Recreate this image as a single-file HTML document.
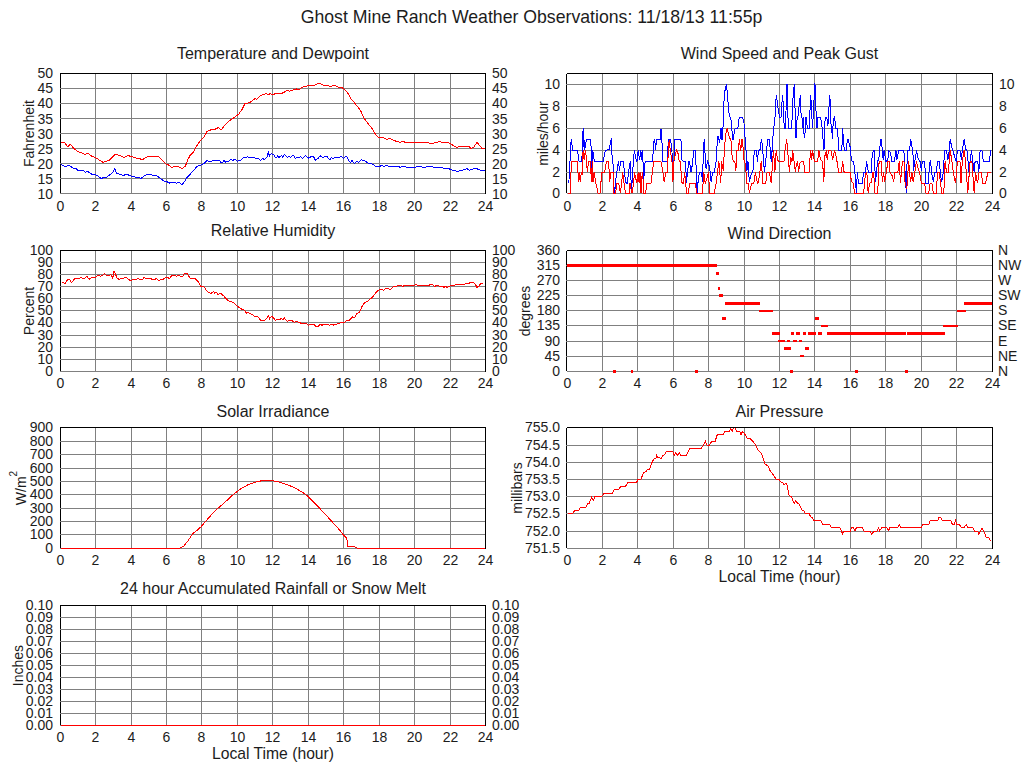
<!DOCTYPE html><html><head><meta charset="utf-8"><style>html,body{margin:0;padding:0;background:#fff;width:1024px;height:768px;overflow:hidden}svg{display:block}text{font-family:"Liberation Sans",sans-serif;fill:#1c1c1c}</style></head><body>
<svg width="1024" height="768" viewBox="0 0 1024 768">
<rect x="0" y="0" width="1024" height="768" fill="#fff"/>
<defs><clipPath id="clipc1"><rect x="61" y="74" width="424" height="121"/></clipPath><clipPath id="clipc2"><rect x="567" y="74" width="425" height="121"/></clipPath><clipPath id="clipc3"><rect x="61" y="251" width="424" height="122"/></clipPath><clipPath id="clipc4"><rect x="567" y="251" width="425" height="122"/></clipPath><clipPath id="clipc5"><rect x="61" y="428" width="424" height="122"/></clipPath><clipPath id="clipc6"><rect x="567" y="428" width="425" height="122"/></clipPath><clipPath id="clipc7"><rect x="61" y="606" width="424" height="121"/></clipPath></defs>
<text x="531.5" y="23" font-size="17.68" text-anchor="middle" transform="translate(531.5 23) scale(1 1.07) translate(-531.5 -23)">Ghost Mine Ranch Weather Observations: 11/18/13 11:55p</text>
<g shape-rendering="crispEdges">
<rect x="60" y="73" width="426" height="1" fill="#000"/>
<rect x="60" y="73" width="1" height="121" fill="#000"/>
<rect x="485" y="73" width="1" height="121" fill="#000"/>
<rect x="61" y="193" width="425" height="1" fill="#000"/>
<rect x="95" y="74" width="1" height="120" fill="#808080"/>
<rect x="131" y="74" width="1" height="120" fill="#808080"/>
<rect x="166" y="74" width="1" height="120" fill="#808080"/>
<rect x="201" y="74" width="1" height="120" fill="#808080"/>
<rect x="237" y="74" width="1" height="120" fill="#808080"/>
<rect x="272" y="74" width="1" height="120" fill="#808080"/>
<rect x="308" y="74" width="1" height="120" fill="#808080"/>
<rect x="343" y="74" width="1" height="120" fill="#808080"/>
<rect x="379" y="74" width="1" height="120" fill="#808080"/>
<rect x="414" y="74" width="1" height="120" fill="#808080"/>
<rect x="450" y="74" width="1" height="120" fill="#808080"/>
<rect x="60" y="88" width="425" height="1" fill="#808080"/>
<rect x="60" y="103" width="425" height="1" fill="#808080"/>
<rect x="60" y="118" width="425" height="1" fill="#808080"/>
<rect x="60" y="133" width="425" height="1" fill="#808080"/>
<rect x="60" y="148" width="425" height="1" fill="#808080"/>
<rect x="60" y="163" width="425" height="1" fill="#808080"/>
<rect x="60" y="178" width="425" height="1" fill="#808080"/>
<rect x="60" y="193" width="425" height="1" fill="#808080"/>
</g>
<g clip-path="url(#clipc1)"><polyline fill="none" stroke="#0000ff" stroke-width="1" shape-rendering="crispEdges" points="60.7,164.4 65.5,166.5 68.7,165.2 73.0,168.1 75.7,168.5 78.4,170.6 81.6,171.0 83.2,170.6 85.4,172.4 87.5,171.4 91.8,174.3 96.7,175.1 101.0,178.3 106.3,177.3 112.2,173.0 114.9,168.7 116.5,173.0 119.8,174.3 123.5,175.3 126.8,174.3 131.0,176.0 136.4,177.3 141.3,178.3 145.0,175.1 150.4,174.6 152.5,175.3 155.8,175.1 160.1,178.3 164.9,181.6 166.9,181.7 169.7,183.1 173.3,182.6 176.9,183.1 179.0,182.4 181.9,184.6 184.8,181.4 186.9,177.4 190.5,173.8 194.1,169.9 196.9,166.4 201.2,164.8 204.0,163.5 205.2,162.6 207.2,160.3 208.4,161.5 211.6,161.5 212.5,160.3 219.5,160.3 221.0,162.4 222.8,162.6 223.6,160.3 224.5,160.4 225.4,162.6 226.0,161.5 228.6,161.5 229.8,160.3 231.2,159.1 232.7,160.6 234.5,159.1 235.6,159.4 237.4,161.5 238.6,160.3 240.9,160.3 243.3,157.4 246.8,157.4 247.4,156.2 248.5,157.3 254.4,157.3 255.3,158.4 258.8,158.4 260.2,160.6 262.3,158.4 264.1,159.4 265.5,158.5 267.0,156.8 267.6,154.7 268.3,152.1 269.5,156.2 270.2,155.0 271.3,153.6 272.0,153.9 273.4,154.4 274.6,156.2 275.8,158.0 277.5,156.2 278.7,157.4 279.6,157.1 281.6,155.3 282.8,157.1 284.3,154.4 286.0,155.9 287.5,157.4 288.7,156.5 289.8,156.8 290.7,157.4 292.8,155.3 293.9,155.9 295.4,158.5 296.6,157.4 299.2,157.4 300.7,156.5 301.3,157.1 302.4,158.5 304.2,156.8 305.4,155.3 307.1,157.1 308.9,158.3 311.5,156.2 313.0,156.5 314.1,157.7 315.3,160.3 317.1,158.8 318.5,158.0 320.3,155.6 321.2,157.4 321.2,156.8 323.5,157.4 324.7,156.3 327.0,156.5 329.4,159.4 330.5,159.4 331.4,157.4 332.3,158.4 333.8,158.4 334.6,157.4 339.3,157.4 340.8,156.2 341.7,156.5 343.4,158.3 345.2,157.1 346.4,156.2 347.5,157.4 348.7,160.3 350.5,162.6 352.2,160.3 353.1,162.4 354.6,163.5 356.6,161.5 358.1,161.8 358.7,162.6 361.3,159.4 362.8,160.3 364.5,160.3 366.9,162.4 368.6,163.4 371.0,163.7 373.3,164.4 375.4,166.5 380.0,166.6 381.0,165.5 383.9,166.2 386.7,165.6 388.9,166.3 397.5,166.3 400.3,167.3 401.8,166.3 404.6,166.6 406.8,167.3 413.2,167.3 419.0,166.6 424.7,167.3 430.4,166.3 434.7,167.3 441.9,167.8 449.0,168.8 454.1,170.6 457.6,171.3 463.4,169.9 467.0,168.5 469.1,170.2 472.0,169.2 476.3,168.5 480.6,170.2 484.9,170.5"/><polyline fill="none" stroke="#ff0000" stroke-width="1" shape-rendering="crispEdges" points="60.7,142.4 64.4,142.4 67.7,146.7 70.4,144.2 74.1,148.8 77.9,151.5 81.1,152.6 84.9,154.5 88.1,153.4 91.8,156.3 95.6,157.7 103.1,162.4 109.6,160.1 114.9,154.5 120.3,155.5 124.1,157.4 127.8,155.6 132.1,156.6 137.0,158.3 142.9,159.5 145.5,157.4 149.8,156.1 158.4,156.1 166.5,164.4 167.6,164.5 171.9,167.4 174.7,166.4 178.3,166.9 182.6,168.5 185.5,165.9 187.6,160.2 189.8,155.9 193.4,152.3 195.5,148.0 200.5,140.2 204.1,137.0 207.0,131.6 209.8,130.1 214.8,129.4 218.4,127.6 221.3,129.8 224.9,125.1 229.2,120.8 234.2,117.5 238.5,114.4 242.1,109.4 244.9,103.6 249.9,102.6 255.0,98.6 256.4,99.3 260.7,95.5 265.7,93.6 268.6,94.3 270.7,93.6 272.1,94.6 274.0,94.6 275.0,93.2 282.2,93.2 287.2,90.5 289.3,91.2 293.6,89.8 296.5,88.9 297.9,90.1 300.8,88.3 303.7,86.5 307.2,86.0 310.1,85.5 313.0,85.8 315.1,85.0 318.0,83.3 320.1,83.8 323.0,85.0 327.3,85.5 330.2,86.5 333.0,85.8 335.2,85.5 337.3,86.9 341.6,87.5 344.5,89.3 347.3,92.2 350.9,98.6 354.5,102.9 358.1,107.2 361.0,111.5 363.8,118.0 368.1,123.7 371.7,128.0 374.6,133.0 377.4,136.6 378.9,137.5 380.0,138.0 383.2,137.5 386.7,139.4 389.6,138.3 393.9,140.5 399.6,142.3 403.2,141.5 406.1,142.6 414.7,143.0 419.0,142.3 426.1,142.3 430.4,143.4 433.3,143.3 436.2,142.3 439.7,141.7 441.9,142.3 447.6,142.3 450.5,143.7 456.2,147.3 461.9,146.3 468.4,146.3 471.2,148.4 473.4,147.7 477.0,142.3 482.0,148.4 484.9,148.4"/></g>
<text x="53" y="78" font-size="14" text-anchor="end">50</text>
<text x="492" y="78" font-size="14">50</text>
<text x="53" y="93" font-size="14" text-anchor="end">45</text>
<text x="492" y="93" font-size="14">45</text>
<text x="53" y="108" font-size="14" text-anchor="end">40</text>
<text x="492" y="108" font-size="14">40</text>
<text x="53" y="124" font-size="14" text-anchor="end">35</text>
<text x="492" y="124" font-size="14">35</text>
<text x="53" y="139" font-size="14" text-anchor="end">30</text>
<text x="492" y="139" font-size="14">30</text>
<text x="53" y="154" font-size="14" text-anchor="end">25</text>
<text x="492" y="154" font-size="14">25</text>
<text x="53" y="169" font-size="14" text-anchor="end">20</text>
<text x="492" y="169" font-size="14">20</text>
<text x="53" y="184" font-size="14" text-anchor="end">15</text>
<text x="492" y="184" font-size="14">15</text>
<text x="53" y="199" font-size="14" text-anchor="end">10</text>
<text x="492" y="199" font-size="14">10</text>
<text x="60.5" y="211" font-size="14" text-anchor="middle">0</text>
<text x="95.5" y="211" font-size="14" text-anchor="middle">2</text>
<text x="131.5" y="211" font-size="14" text-anchor="middle">4</text>
<text x="166.5" y="211" font-size="14" text-anchor="middle">6</text>
<text x="201.5" y="211" font-size="14" text-anchor="middle">8</text>
<text x="237.5" y="211" font-size="14" text-anchor="middle">10</text>
<text x="272.5" y="211" font-size="14" text-anchor="middle">12</text>
<text x="308.5" y="211" font-size="14" text-anchor="middle">14</text>
<text x="343.5" y="211" font-size="14" text-anchor="middle">16</text>
<text x="379.5" y="211" font-size="14" text-anchor="middle">18</text>
<text x="414.5" y="211" font-size="14" text-anchor="middle">20</text>
<text x="450.5" y="211" font-size="14" text-anchor="middle">22</text>
<text x="485.5" y="211" font-size="14" text-anchor="middle">24</text>
<text x="273.0" y="59" font-size="16" text-anchor="middle">Temperature and Dewpoint</text>
<text transform="translate(34 133.5) rotate(-90)" font-size="14" text-anchor="middle">Fahrenheit</text>
<g shape-rendering="crispEdges">
<rect x="567" y="73" width="426" height="1" fill="#000"/>
<rect x="566" y="74" width="1" height="119" fill="#000"/>
<rect x="992" y="73" width="1" height="121" fill="#000"/>
<rect x="567" y="193" width="426" height="1" fill="#000"/>
<rect x="602" y="74" width="1" height="120" fill="#808080"/>
<rect x="637" y="74" width="1" height="120" fill="#808080"/>
<rect x="673" y="74" width="1" height="120" fill="#808080"/>
<rect x="708" y="74" width="1" height="120" fill="#808080"/>
<rect x="744" y="74" width="1" height="120" fill="#808080"/>
<rect x="779" y="74" width="1" height="120" fill="#808080"/>
<rect x="814" y="74" width="1" height="120" fill="#808080"/>
<rect x="850" y="74" width="1" height="120" fill="#808080"/>
<rect x="885" y="74" width="1" height="120" fill="#808080"/>
<rect x="921" y="74" width="1" height="120" fill="#808080"/>
<rect x="956" y="74" width="1" height="120" fill="#808080"/>
<rect x="566" y="84" width="426" height="1" fill="#808080"/>
<rect x="566" y="106" width="426" height="1" fill="#808080"/>
<rect x="566" y="128" width="426" height="1" fill="#808080"/>
<rect x="566" y="150" width="426" height="1" fill="#808080"/>
<rect x="566" y="172" width="426" height="1" fill="#808080"/>
<rect x="567" y="193" width="425" height="1" fill="#808080"/>
</g>
<g clip-path="url(#clipc2)"><polyline fill="none" stroke="#0000ff" stroke-width="1" shape-rendering="crispEdges" points="568.1,182.4 569.0,179.7 569.7,171.5 570.4,148.3 571.3,139.4 572.0,145.1 572.7,150.1 577.5,150.3 579.0,161.0 581.3,161.5 582.1,155.1 582.7,133.2 583.4,128.5 584.1,150.1 584.8,140.0 585.5,147.8 586.3,139.4 590.4,139.4 591.4,150.5 592.1,171.5 592.7,150.5 594.5,161.5 603.2,161.5 604.6,153.3 605.9,150.3 609.6,149.6 610.5,140.5 611.4,139.4 612.1,156.9 612.8,157.8 613.7,183.4 614.6,193.4 615.8,179.7 616.9,171.5 617.8,165.1 618.5,161.5 619.6,170.6 620.5,161.5 623.2,161.5 624.4,170.6 625.5,182.4 627.3,183.4 628.7,171.5 629.6,164.2 630.5,161.5 631.4,193.4 632.8,170.6 633.7,156.9 634.4,150.5 635.7,157.8 636.9,161.5 638.2,150.5 639.6,159.7 640.8,150.5 641.9,159.7 642.6,150.5 643.7,182.4 644.6,164.2 646.0,161.5 652.4,161.5 653.3,150.5 653.7,141.4 654.7,139.4 655.6,150.1 656.5,139.4 660.1,139.4 661.0,128.6 661.9,140.5 662.9,161.5 667.4,161.5 668.3,139.4 670.6,139.4 672.0,152.4 672.9,170.6 673.8,170.6 674.5,139.4 680.6,139.4 681.7,144.1 681.9,159.7 683.3,161.5 685.6,161.5 686.5,183.4 687.4,172.4 688.8,161.5 689.5,161.5 691.0,172.4 692.4,164.2 693.8,150.5 695.3,150.5 696.2,168.8 697.0,193.4 697.9,183.4 699.3,172.4 701.5,172.4 702.6,182.4 703.4,146.9 704.4,139.4 705.2,156.9 706.1,168.8 707.5,161.5 708.8,164.2 710.2,172.4 711.1,182.4 712.5,172.4 714.3,172.4 716.1,161.5 716.9,146.9 717.9,135.9 719.7,142.7 721.0,128.2 722.0,140.0 722.9,129.1 723.3,121.8 724.2,95.3 725.6,87.1 726.5,84.4 727.7,98.1 728.8,111.7 730.2,118.1 731.5,120.9 732.4,139.1 733.4,139.1 734.7,129.1 737.9,128.2 739.3,117.2 742.5,117.2 743.8,120.9 744.8,132.7 745.7,149.6 746.6,150.5 747.0,170.6 748.0,161.5 748.4,166.9 749.3,182.4 750.7,176.1 752.1,172.4 753.4,168.8 753.9,156.0 754.8,150.5 756.2,150.5 757.5,161.5 758.4,150.5 760.3,149.6 761.2,139.6 762.1,143.2 763.5,159.7 764.4,171.5 765.7,161.5 766.7,149.6 767.6,139.4 769.4,139.4 770.3,150.5 771.2,161.5 772.1,150.5 773.0,135.9 775.0,117.2 775.5,103.5 776.4,95.3 777.3,102.6 778.7,112.7 779.6,117.2 781.0,117.2 781.9,103.5 782.6,95.3 783.5,107.2 784.2,128.2 785.5,128.2 786.0,111.7 786.4,84.4 787.4,84.4 787.8,114.5 788.7,128.2 791.5,128.2 792.4,114.5 793.3,90.8 794.5,84.4 795.1,112.7 795.6,138.2 796.5,136.4 796.9,120.9 798.3,114.5 799.7,99.0 800.6,95.3 800.9,112.7 801.9,114.5 802.4,128.2 803.3,117.2 804.2,138.2 805.1,132.7 806.0,117.2 807.4,128.2 809.2,128.2 810.2,106.3 810.6,95.3 811.5,106.3 812.4,128.2 813.8,107.2 814.5,84.4 815.6,86.2 816.1,116.3 817.0,128.2 817.4,117.2 820.0,117.2 820.6,117.2 821.9,125.4 822.8,136.4 824.0,149.6 824.7,123.6 825.6,117.2 826.9,118.1 827.9,126.3 828.8,111.7 829.5,95.3 830.6,102.6 831.0,123.6 832.0,132.7 832.4,139.1 833.3,119.9 834.7,117.2 835.6,128.2 837.4,128.2 838.3,141.8 838.6,150.5 841.8,150.5 842.7,128.5 843.6,143.2 844.5,150.5 846.4,150.5 847.3,139.6 848.0,139.4 850.4,147.8 851.3,159.7 852.2,161.5 853.6,161.5 854.9,172.4 855.9,187.0 856.6,193.4 857.2,172.4 858.6,183.4 862.2,183.4 863.6,172.4 865.4,172.4 866.6,161.5 867.7,168.8 868.6,172.4 871.4,172.4 871.8,159.7 873.2,150.5 874.1,150.5 875.5,182.4 876.4,172.4 877.7,161.5 879.1,156.9 880.5,139.6 881.4,139.4 882.3,150.5 883.2,159.7 884.1,150.5 885.9,161.5 887.8,159.7 888.7,150.5 890.5,152.4 891.9,161.5 894.2,161.5 896.0,150.5 896.9,159.7 898.7,150.5 903.3,150.5 904.0,152.4 904.6,161.5 905.5,181.5 906.4,193.4 907.3,150.5 909.1,150.5 910.0,146.0 910.8,139.4 911.7,146.0 912.8,150.5 913.7,170.6 914.6,161.5 915.5,157.8 916.4,150.5 918.2,158.7 920.1,161.5 921.4,170.6 922.3,161.5 924.6,161.5 926.0,183.4 928.3,183.4 929.6,163.3 930.5,161.5 931.9,174.2 933.3,181.5 934.7,172.2 936.5,172.2 937.4,161.5 939.2,161.5 940.6,174.2 941.5,182.4 942.9,176.1 944.7,150.5 946.5,150.5 947.9,159.7 949.2,150.5 950.2,139.4 951.5,146.0 952.9,150.5 954.7,156.9 956.1,161.5 957.4,150.5 960.0,150.5 961.4,159.7 962.3,149.6 964.2,139.4 965.5,148.7 967.4,151.4 968.7,172.2 970.1,161.5 971.5,150.5 972.8,161.5 974.2,172.2 975.1,161.5 976.5,161.5 977.8,161.5 978.8,172.2 980.1,150.5 981.9,150.5 983.3,161.5 989.2,161.5 990.9,150.5"/><polyline fill="none" stroke="#ff0000" stroke-width="1" shape-rendering="crispEdges" points="567.6,193.4 570.4,193.4 571.3,161.5 577.5,161.5 578.4,182.4 579.3,172.4 580.2,182.4 581.3,172.4 582.1,175.2 583.1,150.3 584.1,159.7 585.4,150.3 586.3,156.9 587.3,172.0 588.6,161.5 590.4,161.5 591.4,182.4 592.3,161.5 593.0,182.4 594.1,172.4 595.9,183.4 598.2,193.4 600.0,193.4 601.8,172.4 604.6,172.4 606.4,161.5 608.7,161.5 609.6,182.4 611.0,172.4 613.2,172.4 614.0,193.4 615.5,193.4 616.9,183.4 618.7,183.4 620.5,193.4 622.7,172.4 624.1,183.4 625.5,193.4 629.1,193.4 630.0,183.4 631.9,193.4 633.7,182.4 634.4,172.4 636.9,183.4 638.2,172.4 639.1,183.4 640.1,172.4 641.0,193.4 641.9,176.1 642.8,172.4 643.5,193.4 645.5,193.4 646.9,183.4 651.0,183.4 652.4,172.4 653.7,161.5 661.0,161.5 662.9,172.4 664.2,182.4 665.6,172.4 667.4,172.4 668.3,150.5 669.2,140.5 670.2,149.6 672.0,161.5 672.9,182.4 673.8,161.5 674.7,156.9 676.5,150.5 678.3,154.2 679.2,161.5 680.6,161.5 681.5,182.4 683.3,183.4 684.7,172.4 685.6,183.4 686.9,193.4 688.3,193.4 689.7,183.4 695.6,183.4 696.5,193.4 702.4,193.4 703.8,172.4 705.2,183.4 707.0,177.9 708.4,172.4 709.7,193.4 714.3,193.4 716.1,183.4 717.5,172.4 718.9,161.5 720.7,183.4 721.6,161.5 723.4,170.6 724.3,150.5 725.7,134.1 727.1,128.6 728.9,135.9 731.2,141.4 732.1,156.9 733.4,161.5 734.8,161.5 736.0,170.6 736.1,150.5 738.4,150.5 739.3,139.4 740.7,150.5 742.0,139.4 743.4,150.5 743.9,159.7 745.2,163.3 746.1,172.4 747.0,183.4 748.4,183.4 749.3,193.4 750.7,187.0 751.6,183.4 753.9,183.4 755.3,172.4 756.6,179.7 758.0,183.4 759.4,176.1 761.2,161.5 763.0,183.4 765.7,183.4 767.1,172.4 769.4,172.4 771.2,183.4 772.6,161.5 773.5,150.5 774.9,171.5 776.2,150.5 777.6,159.7 778.5,161.5 784.0,161.5 784.9,150.5 786.7,139.4 788.1,156.0 789.4,171.5 790.8,156.9 792.0,161.5 792.6,150.5 793.9,159.7 795.3,171.5 796.7,163.3 797.6,161.5 798.5,171.5 799.9,163.3 801.2,161.5 803.5,161.5 804.9,172.2 809.0,172.2 809.9,158.7 810.8,150.5 811.7,159.7 812.6,150.5 814.4,161.5 817.6,161.5 819.0,150.5 820.4,159.7 822.7,161.5 823.6,181.5 824.5,172.4 824.9,156.0 826.3,150.5 827.2,159.7 828.6,150.5 830.9,150.5 832.7,159.7 834.5,150.5 836.3,156.9 837.7,166.0 838.6,172.2 841.3,172.2 842.7,161.5 844.1,172.2 848.0,172.2 850.4,172.2 851.3,181.5 853.1,183.4 854.0,188.8 854.9,193.4 863.6,193.4 865.4,174.2 866.8,172.2 868.2,193.4 869.5,183.4 871.4,182.4 872.7,172.2 873.6,172.2 875.0,193.4 877.7,193.4 879.1,161.5 881.4,161.5 882.3,182.4 883.7,172.2 884.6,182.4 886.4,172.2 887.8,161.5 889.1,161.5 890.0,172.2 892.3,176.1 893.7,182.4 894.6,172.2 897.8,172.2 899.2,161.5 900.5,183.4 902.4,161.5 904.0,161.5 905.0,182.4 906.8,188.8 908.7,161.5 910.5,182.4 911.9,172.2 913.2,182.4 916.4,161.5 918.2,168.8 919.6,172.2 921.4,183.4 924.6,183.4 926.0,193.4 928.7,193.4 930.1,183.4 931.9,183.4 933.3,193.4 936.5,193.4 937.4,172.2 939.2,172.2 940.6,183.4 941.9,193.4 943.8,193.4 945.1,161.5 946.5,172.2 948.3,172.2 950.2,150.5 952.0,161.5 953.3,172.2 955.6,183.4 957.4,161.5 960.0,161.5 961.0,183.4 962.3,161.5 964.2,150.5 965.5,161.5 967.8,193.4 970.1,161.5 971.9,161.5 974.2,193.4 975.6,172.2 977.4,183.4 979.2,172.2 981.0,172.2 982.9,183.4 985.6,183.4 987.9,172.2 990.9,172.2"/></g>
<text x="560" y="89" font-size="14" text-anchor="end">10</text>
<text x="999" y="89" font-size="14">10</text>
<text x="560" y="111" font-size="14" text-anchor="end">8</text>
<text x="999" y="111" font-size="14">8</text>
<text x="560" y="133" font-size="14" text-anchor="end">6</text>
<text x="999" y="133" font-size="14">6</text>
<text x="560" y="155" font-size="14" text-anchor="end">4</text>
<text x="999" y="155" font-size="14">4</text>
<text x="560" y="177" font-size="14" text-anchor="end">2</text>
<text x="999" y="177" font-size="14">2</text>
<text x="560" y="198" font-size="14" text-anchor="end">0</text>
<text x="999" y="198" font-size="14">0</text>
<text x="567.5" y="211" font-size="14" text-anchor="middle">0</text>
<text x="602.5" y="211" font-size="14" text-anchor="middle">2</text>
<text x="637.5" y="211" font-size="14" text-anchor="middle">4</text>
<text x="673.5" y="211" font-size="14" text-anchor="middle">6</text>
<text x="708.5" y="211" font-size="14" text-anchor="middle">8</text>
<text x="744.5" y="211" font-size="14" text-anchor="middle">10</text>
<text x="779.5" y="211" font-size="14" text-anchor="middle">12</text>
<text x="814.5" y="211" font-size="14" text-anchor="middle">14</text>
<text x="850.5" y="211" font-size="14" text-anchor="middle">16</text>
<text x="885.5" y="211" font-size="14" text-anchor="middle">18</text>
<text x="921.5" y="211" font-size="14" text-anchor="middle">20</text>
<text x="956.5" y="211" font-size="14" text-anchor="middle">22</text>
<text x="992.5" y="211" font-size="14" text-anchor="middle">24</text>
<text x="779.5" y="59" font-size="16" text-anchor="middle">Wind Speed and Peak Gust</text>
<text transform="translate(547.5 133.5) rotate(-90)" font-size="14" text-anchor="middle">miles/hour</text>
<g shape-rendering="crispEdges">
<rect x="60" y="250" width="426" height="1" fill="#000"/>
<rect x="60" y="250" width="1" height="122" fill="#000"/>
<rect x="485" y="250" width="1" height="122" fill="#000"/>
<rect x="61" y="371" width="425" height="1" fill="#000"/>
<rect x="95" y="251" width="1" height="121" fill="#808080"/>
<rect x="131" y="251" width="1" height="121" fill="#808080"/>
<rect x="166" y="251" width="1" height="121" fill="#808080"/>
<rect x="201" y="251" width="1" height="121" fill="#808080"/>
<rect x="237" y="251" width="1" height="121" fill="#808080"/>
<rect x="272" y="251" width="1" height="121" fill="#808080"/>
<rect x="308" y="251" width="1" height="121" fill="#808080"/>
<rect x="343" y="251" width="1" height="121" fill="#808080"/>
<rect x="379" y="251" width="1" height="121" fill="#808080"/>
<rect x="414" y="251" width="1" height="121" fill="#808080"/>
<rect x="450" y="251" width="1" height="121" fill="#808080"/>
<rect x="60" y="262" width="425" height="1" fill="#808080"/>
<rect x="60" y="274" width="425" height="1" fill="#808080"/>
<rect x="60" y="286" width="425" height="1" fill="#808080"/>
<rect x="60" y="298" width="425" height="1" fill="#808080"/>
<rect x="60" y="310" width="425" height="1" fill="#808080"/>
<rect x="60" y="322" width="425" height="1" fill="#808080"/>
<rect x="60" y="335" width="425" height="1" fill="#808080"/>
<rect x="60" y="347" width="425" height="1" fill="#808080"/>
<rect x="60" y="359" width="425" height="1" fill="#808080"/>
<rect x="60" y="371" width="425" height="1" fill="#808080"/>
</g>
<g clip-path="url(#clipc3)"><polyline fill="none" stroke="#ff0000" stroke-width="1" shape-rendering="crispEdges" points="62.3,282.2 65.0,283.5 67.7,279.5 69.3,279.3 71.4,282.4 75.2,278.5 76.8,278.8 81.1,277.7 82.7,278.5 84.9,278.1 86.8,276.3 89.2,279.2 91.8,277.4 95.1,277.4 98.3,275.2 100.4,276.3 103.1,274.9 104.7,273.6 106.3,275.6 108.5,275.6 110.6,274.5 111.7,275.8 112.8,278.1 113.9,271.5 114.9,272.3 116.0,275.6 117.1,278.1 119.2,279.5 120.3,278.5 123.0,278.5 124.6,277.4 126.8,277.7 130.0,280.6 133.2,279.5 136.4,279.2 138.0,278.5 139.6,279.5 142.9,279.2 143.9,277.7 146.1,278.5 150.4,278.5 152.5,279.5 155.2,279.2 156.3,278.5 158.4,280.6 161.1,279.5 163.8,279.0 164.0,278.2 166.5,277.7 167.9,277.7 169.5,278.5 171.7,275.5 174.5,275.5 176.2,276.2 178.9,275.1 180.6,276.2 182.8,276.2 184.5,273.6 187.2,273.6 190.0,278.2 193.9,278.2 196.1,279.3 199.4,283.2 200.5,286.3 203.8,286.5 206.1,289.9 208.3,292.1 211.0,293.5 213.8,291.3 214.9,293.2 216.6,292.4 218.2,294.8 219.9,293.2 221.5,293.7 222.7,295.4 223.8,295.7 224.9,297.6 228.2,300.9 231.5,301.5 234.8,303.7 238.1,306.8 241.5,309.0 243.7,309.6 246.4,313.1 248.1,312.3 252.5,314.8 254.7,316.4 257.5,316.4 260.8,320.3 263.6,320.3 265.8,319.7 268.6,315.3 269.7,319.0 270.0,318.1 271.9,316.4 272.1,316.5 275.4,320.2 277.5,319.5 279.1,320.2 281.3,318.4 282.9,319.7 284.5,318.1 287.2,321.3 289.9,320.6 291.5,320.2 294.2,322.4 296.3,321.3 300.1,322.7 302.2,324.0 304.4,323.5 306.5,323.8 308.7,325.3 310.8,324.2 314.0,324.2 315.7,326.4 318.3,326.4 320.0,324.2 322.1,325.3 323.7,324.2 328.0,324.2 329.6,325.3 331.8,324.2 333.4,325.1 334.5,324.2 338.8,323.8 340.9,322.7 344.1,322.4 346.8,320.6 349.5,320.2 352.7,317.0 354.9,317.3 357.0,313.5 359.2,312.7 360.8,309.5 362.4,305.7 364.5,302.7 367.2,301.4 369.9,299.3 372.1,297.7 376.0,292.6 378.1,290.4 380.3,289.3 382.4,289.3 383.5,290.4 385.7,288.5 388.4,288.5 390.0,289.6 393.2,287.0 395.3,286.3 398.6,285.6 401.2,285.6 402.9,286.3 404.5,285.6 408.2,285.6 414.7,285.3 416.3,284.5 417.9,285.6 428.6,285.6 430.2,284.5 432.4,284.5 434.5,286.7 436.7,285.3 438.3,285.6 439.9,286.3 443.1,286.7 444.2,287.4 445.8,286.1 446.9,287.4 450.1,286.1 452.3,285.3 454.4,285.6 456.0,284.5 464.6,284.5 466.2,283.4 468.9,283.4 470.5,282.4 473.2,282.4 474.8,283.4 477.0,287.4 479.1,286.1 480.7,283.4 483.4,283.4"/></g>
<text x="53" y="255" font-size="14" text-anchor="end">100</text>
<text x="492" y="255" font-size="14">100</text>
<text x="53" y="267" font-size="14" text-anchor="end">90</text>
<text x="492" y="267" font-size="14">90</text>
<text x="53" y="279" font-size="14" text-anchor="end">80</text>
<text x="492" y="279" font-size="14">80</text>
<text x="53" y="291" font-size="14" text-anchor="end">70</text>
<text x="492" y="291" font-size="14">70</text>
<text x="53" y="303" font-size="14" text-anchor="end">60</text>
<text x="492" y="303" font-size="14">60</text>
<text x="53" y="315" font-size="14" text-anchor="end">50</text>
<text x="492" y="315" font-size="14">50</text>
<text x="53" y="327" font-size="14" text-anchor="end">40</text>
<text x="492" y="327" font-size="14">40</text>
<text x="53" y="340" font-size="14" text-anchor="end">30</text>
<text x="492" y="340" font-size="14">30</text>
<text x="53" y="352" font-size="14" text-anchor="end">20</text>
<text x="492" y="352" font-size="14">20</text>
<text x="53" y="364" font-size="14" text-anchor="end">10</text>
<text x="492" y="364" font-size="14">10</text>
<text x="53" y="376" font-size="14" text-anchor="end">0</text>
<text x="492" y="376" font-size="14">0</text>
<text x="60.5" y="388" font-size="14" text-anchor="middle">0</text>
<text x="95.5" y="388" font-size="14" text-anchor="middle">2</text>
<text x="131.5" y="388" font-size="14" text-anchor="middle">4</text>
<text x="166.5" y="388" font-size="14" text-anchor="middle">6</text>
<text x="201.5" y="388" font-size="14" text-anchor="middle">8</text>
<text x="237.5" y="388" font-size="14" text-anchor="middle">10</text>
<text x="272.5" y="388" font-size="14" text-anchor="middle">12</text>
<text x="308.5" y="388" font-size="14" text-anchor="middle">14</text>
<text x="343.5" y="388" font-size="14" text-anchor="middle">16</text>
<text x="379.5" y="388" font-size="14" text-anchor="middle">18</text>
<text x="414.5" y="388" font-size="14" text-anchor="middle">20</text>
<text x="450.5" y="388" font-size="14" text-anchor="middle">22</text>
<text x="485.5" y="388" font-size="14" text-anchor="middle">24</text>
<text x="273.0" y="236" font-size="16" text-anchor="middle">Relative Humidity</text>
<text transform="translate(34 311.0) rotate(-90)" font-size="14" text-anchor="middle">Percent</text>
<g shape-rendering="crispEdges">
<rect x="567" y="250" width="426" height="1" fill="#000"/>
<rect x="566" y="251" width="1" height="120" fill="#000"/>
<rect x="992" y="250" width="1" height="122" fill="#000"/>
<rect x="567" y="371" width="426" height="1" fill="#000"/>
<rect x="602" y="251" width="1" height="121" fill="#808080"/>
<rect x="637" y="251" width="1" height="121" fill="#808080"/>
<rect x="673" y="251" width="1" height="121" fill="#808080"/>
<rect x="708" y="251" width="1" height="121" fill="#808080"/>
<rect x="744" y="251" width="1" height="121" fill="#808080"/>
<rect x="779" y="251" width="1" height="121" fill="#808080"/>
<rect x="814" y="251" width="1" height="121" fill="#808080"/>
<rect x="850" y="251" width="1" height="121" fill="#808080"/>
<rect x="885" y="251" width="1" height="121" fill="#808080"/>
<rect x="921" y="251" width="1" height="121" fill="#808080"/>
<rect x="956" y="251" width="1" height="121" fill="#808080"/>
<rect x="566" y="265" width="426" height="1" fill="#808080"/>
<rect x="566" y="280" width="426" height="1" fill="#808080"/>
<rect x="566" y="295" width="426" height="1" fill="#808080"/>
<rect x="566" y="310" width="426" height="1" fill="#808080"/>
<rect x="566" y="325" width="426" height="1" fill="#808080"/>
<rect x="566" y="341" width="426" height="1" fill="#808080"/>
<rect x="566" y="356" width="426" height="1" fill="#808080"/>
<rect x="567" y="371" width="425" height="1" fill="#808080"/>
</g>
<g clip-path="url(#clipc4)"><g fill="#ff0000" shape-rendering="crispEdges"><rect x="567" y="264" width="150" height="3"/><rect x="716" y="272" width="3" height="3"/><rect x="718" y="287" width="2" height="3"/><rect x="719" y="294" width="4" height="3"/><rect x="725" y="302" width="35" height="3"/><rect x="759" y="310" width="14" height="2"/><rect x="722" y="317" width="4" height="3"/><rect x="772" y="332" width="8" height="3"/><rect x="791" y="332" width="3" height="3"/><rect x="796" y="332" width="4" height="3"/><rect x="803" y="332" width="3" height="3"/><rect x="808" y="332" width="8" height="3"/><rect x="818" y="332" width="4" height="3"/><rect x="827" y="332" width="79" height="3"/><rect x="907" y="332" width="38" height="3"/><rect x="778" y="340" width="7" height="2"/><rect x="787" y="340" width="3" height="2"/><rect x="793" y="340" width="4" height="2"/><rect x="799" y="340" width="3" height="2"/><rect x="784" y="347" width="7" height="3"/><rect x="805" y="347" width="4" height="3"/><rect x="800" y="355" width="4" height="2"/><rect x="613" y="370" width="3" height="3"/><rect x="631" y="370" width="2" height="3"/><rect x="695" y="370" width="3" height="3"/><rect x="790" y="370" width="3" height="3"/><rect x="855" y="370" width="3" height="3"/><rect x="905" y="370" width="3" height="3"/><rect x="815" y="317" width="4" height="3"/><rect x="821" y="325" width="7" height="2"/><rect x="943" y="325" width="15" height="2"/><rect x="957" y="310" width="9" height="2"/><rect x="964" y="302" width="28" height="3"/></g></g>
<text x="560" y="255" font-size="14" text-anchor="end">360</text>
<text x="998" y="255" font-size="14">N</text>
<text x="560" y="270" font-size="14" text-anchor="end">315</text>
<text x="998" y="270" font-size="14">NW</text>
<text x="560" y="285" font-size="14" text-anchor="end">270</text>
<text x="998" y="285" font-size="14">W</text>
<text x="560" y="300" font-size="14" text-anchor="end">225</text>
<text x="998" y="300" font-size="14">SW</text>
<text x="560" y="315" font-size="14" text-anchor="end">180</text>
<text x="998" y="315" font-size="14">S</text>
<text x="560" y="330" font-size="14" text-anchor="end">135</text>
<text x="998" y="330" font-size="14">SE</text>
<text x="560" y="346" font-size="14" text-anchor="end">90</text>
<text x="998" y="346" font-size="14">E</text>
<text x="560" y="361" font-size="14" text-anchor="end">45</text>
<text x="998" y="361" font-size="14">NE</text>
<text x="560" y="376" font-size="14" text-anchor="end">0</text>
<text x="998" y="376" font-size="14">N</text>
<text x="567.5" y="388" font-size="14" text-anchor="middle">0</text>
<text x="602.5" y="388" font-size="14" text-anchor="middle">2</text>
<text x="637.5" y="388" font-size="14" text-anchor="middle">4</text>
<text x="673.5" y="388" font-size="14" text-anchor="middle">6</text>
<text x="708.5" y="388" font-size="14" text-anchor="middle">8</text>
<text x="744.5" y="388" font-size="14" text-anchor="middle">10</text>
<text x="779.5" y="388" font-size="14" text-anchor="middle">12</text>
<text x="814.5" y="388" font-size="14" text-anchor="middle">14</text>
<text x="850.5" y="388" font-size="14" text-anchor="middle">16</text>
<text x="885.5" y="388" font-size="14" text-anchor="middle">18</text>
<text x="921.5" y="388" font-size="14" text-anchor="middle">20</text>
<text x="956.5" y="388" font-size="14" text-anchor="middle">22</text>
<text x="992.5" y="388" font-size="14" text-anchor="middle">24</text>
<text x="779.5" y="239" font-size="16" text-anchor="middle">Wind Direction</text>
<text transform="translate(530 311.0) rotate(-90)" font-size="14" text-anchor="middle">degrees</text>
<g shape-rendering="crispEdges">
<rect x="60" y="427" width="426" height="1" fill="#000"/>
<rect x="60" y="427" width="1" height="122" fill="#000"/>
<rect x="485" y="427" width="1" height="122" fill="#000"/>
<rect x="61" y="548" width="425" height="1" fill="#000"/>
<rect x="95" y="428" width="1" height="121" fill="#808080"/>
<rect x="131" y="428" width="1" height="121" fill="#808080"/>
<rect x="166" y="428" width="1" height="121" fill="#808080"/>
<rect x="201" y="428" width="1" height="121" fill="#808080"/>
<rect x="237" y="428" width="1" height="121" fill="#808080"/>
<rect x="272" y="428" width="1" height="121" fill="#808080"/>
<rect x="308" y="428" width="1" height="121" fill="#808080"/>
<rect x="343" y="428" width="1" height="121" fill="#808080"/>
<rect x="379" y="428" width="1" height="121" fill="#808080"/>
<rect x="414" y="428" width="1" height="121" fill="#808080"/>
<rect x="450" y="428" width="1" height="121" fill="#808080"/>
<rect x="60" y="441" width="425" height="1" fill="#808080"/>
<rect x="60" y="454" width="425" height="1" fill="#808080"/>
<rect x="60" y="468" width="425" height="1" fill="#808080"/>
<rect x="60" y="481" width="425" height="1" fill="#808080"/>
<rect x="60" y="494" width="425" height="1" fill="#808080"/>
<rect x="60" y="508" width="425" height="1" fill="#808080"/>
<rect x="60" y="521" width="425" height="1" fill="#808080"/>
<rect x="60" y="534" width="425" height="1" fill="#808080"/>
<rect x="60" y="548" width="425" height="1" fill="#808080"/>
</g>
<g clip-path="url(#clipc5)"><polyline fill="none" stroke="#ff0000" stroke-width="1" shape-rendering="crispEdges" points="61.0,548.5 179.8,548.1 183.7,546.2 187.6,541.3 193.4,532.9 197.3,530.2 201.2,526.6 205.2,521.8 211.0,515.3 216.9,509.1 222.7,504.2 228.6,498.9 234.5,493.4 240.3,489.1 248.1,484.6 255.9,482.1 261.8,480.7 271.6,480.4 279.4,482.1 287.2,484.6 295.0,488.0 302.8,492.5 308.7,497.0 314.5,503.2 320.4,509.1 326.2,515.3 332.1,521.8 338.0,528.2 343.8,535.4 346.8,538.4 347.7,546.2 353.6,546.6 357.5,548.1 485.0,548.5"/></g>
<text x="53" y="432" font-size="14" text-anchor="end">900</text>
<text x="53" y="446" font-size="14" text-anchor="end">800</text>
<text x="53" y="459" font-size="14" text-anchor="end">700</text>
<text x="53" y="473" font-size="14" text-anchor="end">600</text>
<text x="53" y="486" font-size="14" text-anchor="end">500</text>
<text x="53" y="499" font-size="14" text-anchor="end">400</text>
<text x="53" y="513" font-size="14" text-anchor="end">300</text>
<text x="53" y="526" font-size="14" text-anchor="end">200</text>
<text x="53" y="539" font-size="14" text-anchor="end">100</text>
<text x="53" y="553" font-size="14" text-anchor="end">0</text>
<text x="60.5" y="565" font-size="14" text-anchor="middle">0</text>
<text x="95.5" y="565" font-size="14" text-anchor="middle">2</text>
<text x="131.5" y="565" font-size="14" text-anchor="middle">4</text>
<text x="166.5" y="565" font-size="14" text-anchor="middle">6</text>
<text x="201.5" y="565" font-size="14" text-anchor="middle">8</text>
<text x="237.5" y="565" font-size="14" text-anchor="middle">10</text>
<text x="272.5" y="565" font-size="14" text-anchor="middle">12</text>
<text x="308.5" y="565" font-size="14" text-anchor="middle">14</text>
<text x="343.5" y="565" font-size="14" text-anchor="middle">16</text>
<text x="379.5" y="565" font-size="14" text-anchor="middle">18</text>
<text x="414.5" y="565" font-size="14" text-anchor="middle">20</text>
<text x="450.5" y="565" font-size="14" text-anchor="middle">22</text>
<text x="485.5" y="565" font-size="14" text-anchor="middle">24</text>
<text x="273.0" y="417" font-size="16" text-anchor="middle">Solar Irradiance</text>
<text transform="translate(25.5 488.0) rotate(-90)" font-size="14" text-anchor="middle">W/m<tspan font-size="10" dy="-9">2</tspan></text>
<g shape-rendering="crispEdges">
<rect x="567" y="427" width="426" height="1" fill="#000"/>
<rect x="566" y="428" width="1" height="120" fill="#000"/>
<rect x="992" y="427" width="1" height="122" fill="#000"/>
<rect x="567" y="548" width="426" height="1" fill="#000"/>
<rect x="602" y="428" width="1" height="121" fill="#808080"/>
<rect x="637" y="428" width="1" height="121" fill="#808080"/>
<rect x="673" y="428" width="1" height="121" fill="#808080"/>
<rect x="708" y="428" width="1" height="121" fill="#808080"/>
<rect x="744" y="428" width="1" height="121" fill="#808080"/>
<rect x="779" y="428" width="1" height="121" fill="#808080"/>
<rect x="814" y="428" width="1" height="121" fill="#808080"/>
<rect x="850" y="428" width="1" height="121" fill="#808080"/>
<rect x="885" y="428" width="1" height="121" fill="#808080"/>
<rect x="921" y="428" width="1" height="121" fill="#808080"/>
<rect x="956" y="428" width="1" height="121" fill="#808080"/>
<rect x="566" y="445" width="426" height="1" fill="#808080"/>
<rect x="566" y="462" width="426" height="1" fill="#808080"/>
<rect x="566" y="479" width="426" height="1" fill="#808080"/>
<rect x="566" y="496" width="426" height="1" fill="#808080"/>
<rect x="566" y="513" width="426" height="1" fill="#808080"/>
<rect x="566" y="531" width="426" height="1" fill="#808080"/>
<rect x="567" y="548" width="425" height="1" fill="#808080"/>
</g>
<g clip-path="url(#clipc6)"><polyline fill="none" stroke="#ff0000" stroke-width="1" shape-rendering="crispEdges" points="567.5,513.4 572.8,513.4 574.5,510.6 578.6,510.6 580.4,507.6 585.7,507.6 587.4,503.8 589.2,503.2 591.5,497.4 593.3,500.3 595.0,496.5 602.1,496.2 603.8,493.5 612.0,493.5 614.4,489.5 618.5,489.5 620.8,486.5 625.5,486.5 627.8,482.5 636.6,482.5 637.8,479.4 640.7,479.4 643.7,472.8 646.0,471.6 647.2,469.6 649.5,469.2 652.4,461.6 654.2,458.7 656.0,458.1 656.5,455.2 657.7,457.5 661.2,458.3 663.0,455.5 664.7,454.8 666.5,451.4 670.0,451.4 672.7,451.4 672.9,451.4 674.3,455.4 675.9,452.5 677.5,455.4 679.1,452.5 680.7,455.4 686.1,455.4 689.9,448.5 701.2,448.5 703.3,445.5 705.4,441.2 707.1,445.5 709.2,445.5 711.9,441.2 715.1,441.2 717.3,434.7 723.2,434.7 724.8,431.5 729.6,431.5 730.7,428.3 732.3,431.5 733.4,428.3 734.5,427.2 736.6,431.5 739.8,431.5 740.9,434.7 742.5,431.5 745.2,434.7 747.3,438.2 750.0,438.2 752.7,441.2 755.9,445.5 758.1,450.3 761.3,453.0 765.1,464.6 767.8,465.4 770.4,471.3 773.1,474.5 776.0,479.1 776.3,479.1 779.2,479.8 780.8,482.0 783.0,482.7 784.1,485.2 785.7,483.1 787.3,485.7 788.9,494.9 791.6,497.0 793.2,501.9 794.8,503.5 795.3,500.2 797.5,503.1 799.1,504.0 801.8,509.9 803.9,511.0 805.0,513.1 808.8,513.1 810.4,516.4 812.5,518.0 813.6,520.3 820.6,520.3 822.7,524.4 829.7,524.4 831.3,527.4 839.9,527.4 842.6,533.9 843.7,531.4 850.1,531.4 851.7,527.4 853.3,527.4 855.0,530.6 856.6,527.4 862.5,527.4 864.1,531.4 870.0,531.4 871.6,534.3 873.8,531.4 877.0,531.4 878.6,527.6 879.7,530.6 881.8,527.6 882.0,527.4 886.8,527.4 888.4,530.6 890.1,527.4 897.6,527.4 899.2,524.7 900.8,527.4 921.2,527.4 922.8,524.5 928.7,524.5 930.3,520.2 937.9,520.2 938.9,517.2 940.5,517.2 942.2,520.2 950.8,520.2 952.4,524.5 954.0,524.5 955.6,520.2 956.7,524.2 959.3,524.5 961.5,527.4 964.2,527.4 966.3,524.5 967.9,527.4 972.8,527.4 974.4,531.2 977.6,531.2 978.7,534.4 981.9,528.5 983.5,530.6 986.2,537.1 988.9,537.6 990.5,541.4"/></g>
<text x="560" y="432" font-size="14" text-anchor="end">755.0</text>
<text x="560" y="450" font-size="14" text-anchor="end">754.5</text>
<text x="560" y="467" font-size="14" text-anchor="end">754.0</text>
<text x="560" y="484" font-size="14" text-anchor="end">753.5</text>
<text x="560" y="501" font-size="14" text-anchor="end">753.0</text>
<text x="560" y="518" font-size="14" text-anchor="end">752.5</text>
<text x="560" y="536" font-size="14" text-anchor="end">752.0</text>
<text x="560" y="553" font-size="14" text-anchor="end">751.5</text>
<text x="567.5" y="565" font-size="14" text-anchor="middle">0</text>
<text x="602.5" y="565" font-size="14" text-anchor="middle">2</text>
<text x="637.5" y="565" font-size="14" text-anchor="middle">4</text>
<text x="673.5" y="565" font-size="14" text-anchor="middle">6</text>
<text x="708.5" y="565" font-size="14" text-anchor="middle">8</text>
<text x="744.5" y="565" font-size="14" text-anchor="middle">10</text>
<text x="779.5" y="565" font-size="14" text-anchor="middle">12</text>
<text x="814.5" y="565" font-size="14" text-anchor="middle">14</text>
<text x="850.5" y="565" font-size="14" text-anchor="middle">16</text>
<text x="885.5" y="565" font-size="14" text-anchor="middle">18</text>
<text x="921.5" y="565" font-size="14" text-anchor="middle">20</text>
<text x="956.5" y="565" font-size="14" text-anchor="middle">22</text>
<text x="992.5" y="565" font-size="14" text-anchor="middle">24</text>
<text x="779.5" y="417" font-size="16" text-anchor="middle">Air Pressure</text>
<text transform="translate(522 488.0) rotate(-90)" font-size="14" text-anchor="middle">millibars</text>
<text x="779.5" y="582" font-size="15.7" text-anchor="middle">Local Time (hour)</text>
<g shape-rendering="crispEdges">
<rect x="60" y="605" width="426" height="1" fill="#000"/>
<rect x="60" y="605" width="1" height="121" fill="#000"/>
<rect x="485" y="605" width="1" height="121" fill="#000"/>
<rect x="61" y="725" width="425" height="1" fill="#000"/>
<rect x="95" y="606" width="1" height="120" fill="#808080"/>
<rect x="131" y="606" width="1" height="120" fill="#808080"/>
<rect x="166" y="606" width="1" height="120" fill="#808080"/>
<rect x="201" y="606" width="1" height="120" fill="#808080"/>
<rect x="237" y="606" width="1" height="120" fill="#808080"/>
<rect x="272" y="606" width="1" height="120" fill="#808080"/>
<rect x="308" y="606" width="1" height="120" fill="#808080"/>
<rect x="343" y="606" width="1" height="120" fill="#808080"/>
<rect x="379" y="606" width="1" height="120" fill="#808080"/>
<rect x="414" y="606" width="1" height="120" fill="#808080"/>
<rect x="450" y="606" width="1" height="120" fill="#808080"/>
<rect x="60" y="617" width="425" height="1" fill="#808080"/>
<rect x="60" y="629" width="425" height="1" fill="#808080"/>
<rect x="60" y="641" width="425" height="1" fill="#808080"/>
<rect x="60" y="653" width="425" height="1" fill="#808080"/>
<rect x="60" y="665" width="425" height="1" fill="#808080"/>
<rect x="60" y="677" width="425" height="1" fill="#808080"/>
<rect x="60" y="689" width="425" height="1" fill="#808080"/>
<rect x="60" y="701" width="425" height="1" fill="#808080"/>
<rect x="60" y="713" width="425" height="1" fill="#808080"/>
<rect x="60" y="725" width="425" height="1" fill="#808080"/>
</g>
<g clip-path="url(#clipc7)"><polyline fill="none" stroke="#ff0000" stroke-width="1" shape-rendering="crispEdges" points="61.0,725.5 485.0,725.5"/></g>
<text x="53" y="610" font-size="14" text-anchor="end">0.10</text>
<text x="492" y="610" font-size="14">0.10</text>
<text x="53" y="622" font-size="14" text-anchor="end">0.09</text>
<text x="492" y="622" font-size="14">0.09</text>
<text x="53" y="634" font-size="14" text-anchor="end">0.08</text>
<text x="492" y="634" font-size="14">0.08</text>
<text x="53" y="646" font-size="14" text-anchor="end">0.07</text>
<text x="492" y="646" font-size="14">0.07</text>
<text x="53" y="658" font-size="14" text-anchor="end">0.06</text>
<text x="492" y="658" font-size="14">0.06</text>
<text x="53" y="670" font-size="14" text-anchor="end">0.05</text>
<text x="492" y="670" font-size="14">0.05</text>
<text x="53" y="682" font-size="14" text-anchor="end">0.04</text>
<text x="492" y="682" font-size="14">0.04</text>
<text x="53" y="694" font-size="14" text-anchor="end">0.03</text>
<text x="492" y="694" font-size="14">0.03</text>
<text x="53" y="706" font-size="14" text-anchor="end">0.02</text>
<text x="492" y="706" font-size="14">0.02</text>
<text x="53" y="718" font-size="14" text-anchor="end">0.01</text>
<text x="492" y="718" font-size="14">0.01</text>
<text x="53" y="730" font-size="14" text-anchor="end">0.00</text>
<text x="492" y="730" font-size="14">0.00</text>
<text x="60.5" y="742" font-size="14" text-anchor="middle">0</text>
<text x="95.5" y="742" font-size="14" text-anchor="middle">2</text>
<text x="131.5" y="742" font-size="14" text-anchor="middle">4</text>
<text x="166.5" y="742" font-size="14" text-anchor="middle">6</text>
<text x="201.5" y="742" font-size="14" text-anchor="middle">8</text>
<text x="237.5" y="742" font-size="14" text-anchor="middle">10</text>
<text x="272.5" y="742" font-size="14" text-anchor="middle">12</text>
<text x="308.5" y="742" font-size="14" text-anchor="middle">14</text>
<text x="343.5" y="742" font-size="14" text-anchor="middle">16</text>
<text x="379.5" y="742" font-size="14" text-anchor="middle">18</text>
<text x="414.5" y="742" font-size="14" text-anchor="middle">20</text>
<text x="450.5" y="742" font-size="14" text-anchor="middle">22</text>
<text x="485.5" y="742" font-size="14" text-anchor="middle">24</text>
<text x="273.0" y="594" font-size="16" text-anchor="middle">24 hour Accumulated Rainfall or Snow Melt</text>
<text transform="translate(22.5 665.5) rotate(-90)" font-size="14" text-anchor="middle">Inches</text>
<text x="273.0" y="759" font-size="15.7" text-anchor="middle">Local Time (hour)</text>
</svg></body></html>
